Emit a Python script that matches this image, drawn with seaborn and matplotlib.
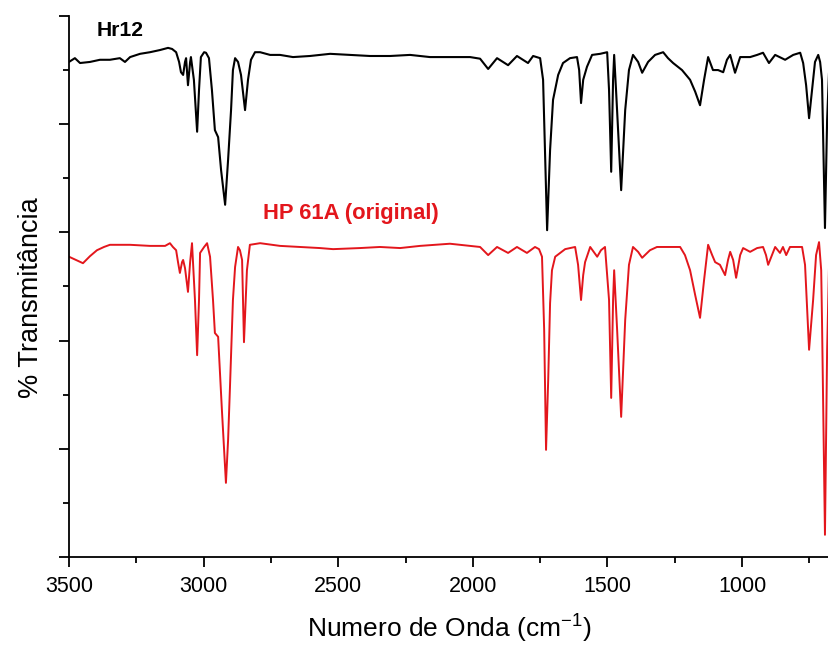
import numpy as np
import matplotlib
matplotlib.use("Agg")
import matplotlib.pyplot as plt
from matplotlib.ticker import MultipleLocator, NullFormatter
import seaborn as sns

# Hr12 spectrum (black), wavenumber in cm-1 and transmittance (arbitrary offset %)
hr12_wn = [3500, 3478, 3459, 3422, 3385, 3348, 3311, 3292, 3273, 3236, 3199, 3162, 3132, 3117,
           3102, 3091, 3084, 3076, 3069, 3065, 3058, 3050, 3047, 3036, 3024, 3017, 3010, 2998,
           2991, 2980, 2969, 2958, 2946, 2935, 2920, 2909, 2898, 2891, 2883, 2872, 2861, 2846,
           2835, 2824, 2809, 2790, 2753, 2716, 2668, 2605, 2530, 2456, 2382, 2307, 2233, 2159,
           2085, 2010, 1973, 1943, 1910, 1869, 1836, 1795, 1776, 1750, 1739, 1724, 1713, 1702,
           1683, 1665, 1639, 1613, 1605, 1598, 1590, 1576, 1557, 1527, 1501, 1494, 1486, 1479,
           1475, 1468, 1449, 1434, 1420, 1405, 1386, 1371, 1349, 1323, 1293, 1275, 1256, 1223,
           1193, 1174, 1156, 1141, 1126, 1108, 1089, 1070, 1056, 1044, 1026, 1007, 970, 944,
           922, 900, 877, 840, 810, 784, 773, 762, 751, 740, 729, 717, 710, 703, 692, 684, 677]
hr12_t = [91.5, 92.2, 91.3, 91.5, 91.9, 91.9, 92.2, 91.5, 92.4, 93.0, 93.3, 93.7, 94.1, 93.9,
          93.3, 91.5, 89.6, 89.1, 91.5, 92.2, 87.2, 91.5, 92.4, 88.2, 78.6, 86.3, 92.4, 93.3,
          93.2, 92.2, 86.3, 78.9, 77.6, 71.5, 65.1, 73.4, 82.6, 90.0, 92.2, 91.5, 89.1, 82.6,
          88.2, 91.9, 93.3, 93.3, 92.8, 92.8, 92.4, 92.6, 93.0, 92.8, 92.6, 92.6, 92.8, 92.4,
          92.4, 92.4, 92.1, 90.2, 92.2, 90.9, 92.6, 91.3, 92.6, 92.2, 88.2, 60.4, 75.2, 84.5,
          89.1, 91.3, 92.2, 92.4, 90.0, 83.9, 88.2, 90.6, 92.8, 93.0, 93.3, 86.3, 71.2, 88.2,
          92.8, 86.3, 67.8, 82.6, 90.0, 92.8, 91.5, 89.5, 91.5, 92.8, 93.3, 92.2, 91.3, 90.0,
          88.2, 86.0, 83.5, 88.2, 92.4, 90.0, 90.0, 89.6, 91.9, 92.8, 89.5, 92.4, 92.4, 92.8,
          93.2, 91.3, 92.8, 91.9, 92.8, 93.2, 91.3, 87.2, 81.1, 86.3, 91.5, 92.8, 91.5, 88.2,
          60.8, 80.8, 89.5]

# HP 61A (original) spectrum (red)
hp61a_wn = [3500, 3474, 3448, 3422, 3396, 3370, 3348, 3273, 3199, 3143, 3125, 3114, 3102, 3095,
            3088, 3080, 3076, 3069, 3058, 3050, 3043, 3032, 3024, 3017, 3013, 2998, 2987, 2976,
            2965, 2958, 2946, 2932, 2917, 2909, 2902, 2891, 2883, 2872, 2865, 2857, 2850, 2842,
            2839, 2828, 2790, 2716, 2642, 2568, 2519, 2419, 2345, 2270, 2196, 2085, 1973, 1943,
            1910, 1869, 1836, 1799, 1769, 1754, 1743, 1735, 1728, 1720, 1713, 1706, 1694, 1657,
            1620, 1609, 1598, 1590, 1583, 1564, 1538, 1524, 1509, 1494, 1486, 1479, 1475, 1464,
            1449, 1434, 1420, 1405, 1386, 1371, 1342, 1316, 1230, 1212, 1193, 1174, 1156, 1141,
            1126, 1111, 1100, 1082, 1063, 1052, 1044, 1033, 1022, 1007, 996, 970, 944, 922, 911,
            903, 889, 877, 859, 848, 836, 822, 777, 766, 751, 736, 725, 714, 706, 703, 692, 684,
            677]
hp61a_t = [55.5, 54.9, 54.3, 55.6, 56.7, 57.3, 57.7, 57.7, 57.5, 57.5, 58.0, 57.3, 56.7, 54.5,
           52.5, 54.5, 54.9, 53.4, 49.0, 54.5, 58.0, 47.5, 37.3, 47.5, 56.2, 57.3, 58.0, 55.5,
           47.5, 41.4, 40.7, 27.2, 13.7, 21.6, 31.4, 47.5, 53.6, 57.3, 56.7, 54.9, 39.7, 49.4,
           53.0, 57.7, 58.0, 57.5, 57.3, 57.1, 56.9, 57.1, 57.3, 57.1, 57.5, 57.9, 57.3, 55.8,
           57.3, 56.2, 57.3, 56.2, 57.3, 56.9, 55.5, 42.0, 19.8, 32.7, 46.9, 53.0, 55.5, 56.9,
           57.3, 54.0, 47.5, 52.1, 54.5, 57.3, 55.5, 56.7, 57.3, 47.5, 29.4, 47.5, 53.0, 42.0,
           25.9, 43.8, 54.0, 57.3, 56.4, 55.3, 56.7, 57.3, 57.3, 55.8, 53.0, 48.4, 44.2, 51.2,
           57.7, 55.8, 54.5, 54.0, 52.1, 54.9, 56.4, 54.9, 51.6, 55.8, 57.1, 56.4, 57.1, 57.3,
           55.8, 54.0, 55.8, 57.3, 56.2, 57.3, 55.8, 57.3, 57.3, 54.0, 38.3, 47.5, 55.8, 58.2,
           53.0, 43.8, 4.1, 38.3, 53.6]

x_ticks = [3500, 3000, 2500, 2000, 1500, 1000]

sns.set_theme(style="white")
plt.rcParams['font.family'] = ['Liberation Sans', 'DejaVu Sans']

fig = plt.figure(figsize=(8.29, 6.46), dpi=100)
ax = fig.add_axes([0.0832, 0.1378, 0.9168, 0.8375])

sns.lineplot(x=hr12_wn, y=hr12_t, ax=ax, color='black', linewidth=1.5, sort=False, estimator=None)
sns.lineplot(x=hp61a_wn, y=hp61a_t, ax=ax, color='#e3161c', linewidth=1.4, sort=False, estimator=None)

ax.set_xlim(3500, 677)
ax.set_ylim(0, 100)
ax.set_xticks(x_ticks)
ax.xaxis.set_minor_locator(MultipleLocator(250))
ax.yaxis.set_major_locator(MultipleLocator(20))
ax.yaxis.set_minor_locator(MultipleLocator(10))
ax.yaxis.set_major_formatter(NullFormatter())

for side in ['top', 'right']:
    ax.spines[side].set_visible(False)
for side in ['left', 'bottom']:
    ax.spines[side].set_color('black')
    ax.spines[side].set_linewidth(1.3)

ax.tick_params(which='major', direction='out', length=7.5, width=1.3, color='black',
               labelsize=15.5, labelcolor='black', bottom=True, left=True, pad=6)
ax.tick_params(which='minor', direction='out', length=4, width=1.3, color='black',
               bottom=True, left=True)

ax.set_xlabel('Numero de Onda (cm$^{\\mathregular{-1}}$)', fontsize=19, color='black', labelpad=10)
ax.set_ylabel('% Transmitância', fontsize=19.5, color='black')
ax.yaxis.set_label_coords(-0.033, 0.48)

ax.text(0.037, 0.974, 'Hr12', transform=ax.transAxes, fontsize=15.2, fontweight='bold',
        color='black', va='center', ha='left')
ax.text(0.255, 0.634, 'HP 61A (original)', transform=ax.transAxes, fontsize=15.8,
        fontweight='bold', color='#e3161c', va='center', ha='left')

fig.savefig('out.png', dpi=100)
